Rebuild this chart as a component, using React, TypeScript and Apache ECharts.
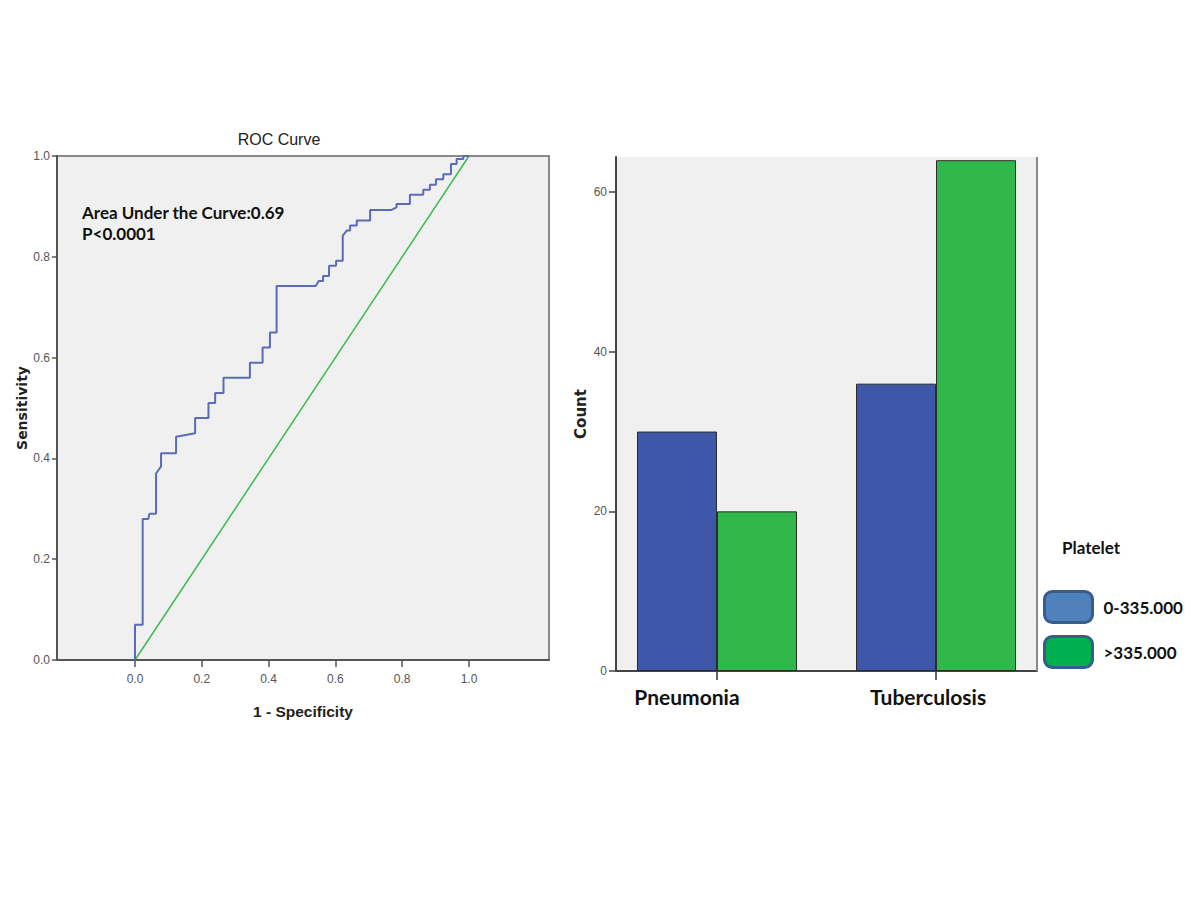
import React, { useEffect, useRef } from "react";
import * as echarts from "echarts";

// ROC curve vertices (1 - specificity, sensitivity)
const rocFpr = [0, 0, 0.023, 0.023, 0.04, 0.043, 0.063, 0.063, 0.078, 0.078, 0.123, 0.123, 0.18, 0.18, 0.22, 0.22, 0.24, 0.24, 0.265, 0.265, 0.344, 0.344, 0.382, 0.382, 0.404, 0.404, 0.424, 0.424, 0.541, 0.55, 0.563, 0.563, 0.581, 0.581, 0.602, 0.602, 0.622, 0.622, 0.634, 0.644, 0.644, 0.664, 0.664, 0.704, 0.704, 0.768, 0.783, 0.783, 0.823, 0.823, 0.863, 0.863, 0.883, 0.883, 0.901, 0.901, 0.923, 0.923, 0.946, 0.946, 0.963, 0.963, 0.983, 0.983, 1.0];
const rocTpr = [0, 0.07, 0.07, 0.28, 0.28, 0.29, 0.29, 0.37, 0.384, 0.41, 0.41, 0.443, 0.45, 0.48, 0.48, 0.51, 0.51, 0.53, 0.53, 0.56, 0.56, 0.59, 0.59, 0.62, 0.62, 0.65, 0.65, 0.742, 0.742, 0.752, 0.752, 0.762, 0.762, 0.782, 0.782, 0.792, 0.792, 0.842, 0.852, 0.852, 0.862, 0.862, 0.872, 0.872, 0.893, 0.893, 0.898, 0.905, 0.905, 0.923, 0.923, 0.933, 0.933, 0.943, 0.943, 0.954, 0.954, 0.964, 0.964, 0.984, 0.984, 0.994, 0.994, 1.0, 1.0];
const refLineX = [0, 1];
const refLineY = [0, 1];
const rocTicks = [0, 0.2, 0.4, 0.6, 0.8, 1.0];
const aucText = "Area Under the Curve:0.69";
const pText = "P<0.0001";

// Bar chart
const categories = ["Pneumonia", "Tuberculosis"];
const seriesNames = ["0-335.000", ">335.000"];
const lowPlatelet = [30, 36];
const highPlatelet = [20, 64];
const categoryPositions = [0, 1];
const countTicks = [0, 20, 40, 60];

const NARROW = "Liberation Sans";
const WIDE = "DejaVu Sans";
const CAL = "Lato";

export default function App() {
  const ref = useRef<HTMLDivElement>(null);
  useEffect(() => {
    document.body.style.margin = "0";
    const chart = echarts.init(ref.current!, undefined, { renderer: "svg" });
    const option: any = {
      animation: false,
      backgroundColor: "#ffffff",
      grid: [
        {
          left: 57, top: 156, width: 492, height: 504,
          show: true, backgroundColor: "#f0f0f0", borderColor: "#666", borderWidth: 1.5,
        },
        { left: 616, top: 157, width: 421, height: 514, show: true, backgroundColor: "#f0f0f0", borderWidth: 0 },
      ],
      xAxis: [
        {
          gridIndex: 0, type: "value", min: -0.2335, max: 1.2395,
          name: "1 - Specificity", nameLocation: "middle", nameGap: 43,
          nameTextStyle: { fontFamily: NARROW, fontWeight: "bold", fontSize: 15.5, color: "#222" },
          axisLine: { show: true, onZero: false, lineStyle: { color: "#555", width: 2 } },
          axisTick: { show: true, customValues: rocTicks, length: 7, lineStyle: { color: "#555", width: 1.5 } },
          axisLabel: { customValues: rocTicks, formatter: (v: number) => v.toFixed(1), fontFamily: NARROW, fontSize: 12, color: "#555", margin: 13 },
          splitLine: { show: false },
        },
        {
          gridIndex: 1, type: "value", min: -0.461, max: 1.461,
          axisLine: { show: true, onZero: false, lineStyle: { color: "#444", width: 2 } },
          axisTick: { show: true, customValues: categoryPositions, length: 9, lineStyle: { color: "#333", width: 1.5 } },
          axisLabel: {
            customValues: categoryPositions,
            formatter: (v: number) => (v === 0 ? `{p|${categories[0]}}` : `{t|${categories[1]}}`),
            margin: 15,
            rich: {
              p: { fontFamily: CAL, fontWeight: "bold", fontSize: 21, color: "#111", padding: [0, 60, 0, 0] },
              t: { fontFamily: CAL, fontWeight: "bold", fontSize: 21, color: "#111", padding: [0, 16, 0, 0] },
            },
          },
          splitLine: { show: false },
        },
      ],
      yAxis: [
        {
          gridIndex: 0, type: "value", min: 0, max: 1, interval: 0.2,
          name: "Sensitivity", nameLocation: "middle", nameGap: 20, nameRotate: 90,
          nameTextStyle: { fontFamily: WIDE, fontWeight: "bold", fontSize: 14, color: "#222" },
          axisLine: { show: true, onZero: false, lineStyle: { color: "#555", width: 2 } },
          axisTick: { show: true, length: 5, lineStyle: { color: "#555", width: 1.5 } },
          axisLabel: { formatter: (v: number) => v.toFixed(1), fontFamily: NARROW, fontSize: 12, color: "#555", margin: 7 },
          splitLine: { show: false },
        },
        {
          gridIndex: 1, type: "value", min: 0, max: 64.4,
          name: "Count", nameLocation: "middle", nameGap: 28, nameRotate: 90,
          nameTextStyle: { fontFamily: WIDE, fontWeight: "bold", fontSize: 15, color: "#222" },
          axisLine: { show: true, onZero: false, lineStyle: { color: "#444", width: 2 } },
          axisTick: { show: true, customValues: countTicks, length: 7, lineStyle: { color: "#444", width: 1.5 } },
          axisLabel: { customValues: countTicks, fontFamily: NARROW, fontSize: 12, color: "#555", margin: 9 },
          splitLine: { show: false },
        },
      ],
      title: {
        text: "Platelet", left: 1057, top: 534,
        textStyle: { fontFamily: CAL, fontWeight: "bold", fontSize: 17, color: "#111" },
      },
      legend: {
        orient: "vertical", left: 1038, top: 585, itemWidth: 48, itemHeight: 31, itemGap: 11,
        icon: "roundRect",
        textStyle: { fontFamily: CAL, fontWeight: "bold", fontSize: 17, color: "#111", padding: [0, 0, 0, 6] },
        data: [
          { name: seriesNames[0], itemStyle: { color: "#4f81bd", borderColor: "#385d8a", borderWidth: 3 } },
          { name: seriesNames[1], itemStyle: { color: "#00b050", borderColor: "#385d8a", borderWidth: 3 } },
        ],
      },
      graphic: [
        {
          type: "text", x: 279, y: 139,
          style: { text: "ROC Curve", font: `16px ${NARROW}`, fill: "#222", textAlign: "center", textVerticalAlign: "middle" },
        },
        {
          type: "text", x: 82, y: 212, z: 10,
          style: { text: aucText, font: `bold 17px ${CAL}`, fill: "#111", textAlign: "left", textVerticalAlign: "middle" },
        },
        {
          type: "text", x: 82, y: 233, z: 10,
          style: { text: pText, font: `bold 17px ${CAL}`, fill: "#111", textAlign: "left", textVerticalAlign: "middle" },
        },
        {
          type: "line", z: 10,
          shape: { x1: 1037, y1: 157, x2: 1037, y2: 671 },
          style: { stroke: "#888", lineWidth: 2 },
        },
      ],
      series: [
        {
          type: "line", xAxisIndex: 0, yAxisIndex: 0, symbol: "none", silent: true,
          data: refLineX.map((x, i) => [x, refLineY[i]]),
          lineStyle: { color: "#3dba4e", width: 1.5 },
        },
        {
          type: "line", xAxisIndex: 0, yAxisIndex: 0, symbol: "none", silent: true,
          data: rocFpr.map((x, i) => [x, rocTpr[i]]),
          lineStyle: { color: "#5b6bb8", width: 2 },
        },
        {
          name: seriesNames[0], type: "bar", xAxisIndex: 1, yAxisIndex: 1,
          barWidth: 80, barGap: "0%",
          data: categoryPositions.map((p, i) => [p, lowPlatelet[i]]),
          itemStyle: { color: "#3f57a9", borderColor: "#2a2a2a", borderWidth: 1 },
        },
        {
          name: seriesNames[1], type: "bar", xAxisIndex: 1, yAxisIndex: 1,
          barWidth: 80, barGap: "0%",
          data: categoryPositions.map((p, i) => [p, highPlatelet[i]]),
          itemStyle: { color: "#31b84a", borderColor: "#2a2a2a", borderWidth: 1 },
        },
      ],
    };
    chart.setOption(option);
    return () => chart.dispose();
  }, []);
  return <div ref={ref} style={{ width: 1200, height: 900 }} />;
}
